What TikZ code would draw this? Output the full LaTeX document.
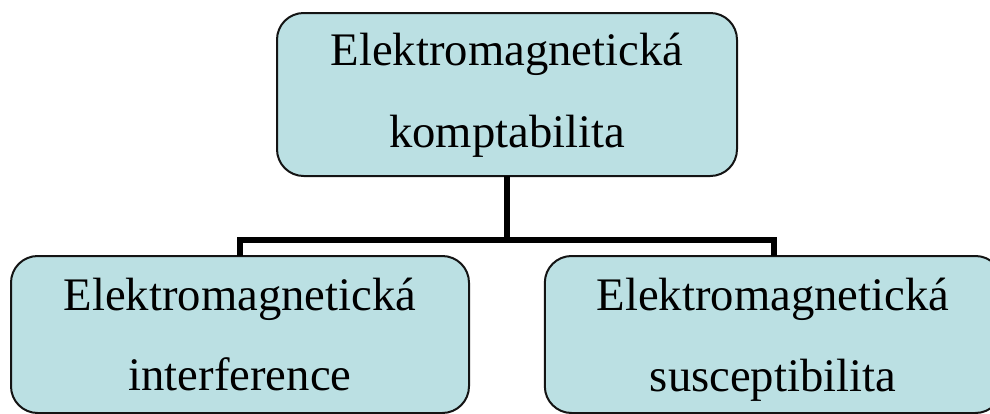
\documentclass[tikz,border=0pt]{standalone}
\usepackage{fontspec}
\setmainfont{Liberation Serif}
\definecolor{boxfill}{RGB}{187,224,227}
\definecolor{boxline}{RGB}{20,20,20}
\begin{document}
\begin{tikzpicture}[x=0.75pt,y=-0.75pt,
  box/.style={draw=boxline, line width=1.5pt, fill=boxfill, rounded corners=20pt,
    rectangle, inner sep=0pt, outer sep=0pt},
  conn/.style={draw=black, line width=4.5pt, line join=miter},
  lbl/.style={anchor=base, inner sep=0pt, font=\fontsize{35}{42}\selectfont}]
\useasboundingbox (0,0) rectangle (990,414);
\clip (0,0) rectangle (990,414);
% boxes
\node[box, minimum width=345pt, minimum height=122.25pt] (top) at (507,94.5) {};
\node[box, minimum width=343.5pt, minimum height=117.75pt] (left) at (240,334.5) {};
\node[box, minimum width=343pt, minimum height=117.75pt] (right) at (773.5,334.5) {};
% connectors
\coordinate (j) at (507,240);
\begin{scope}[on background layer/.try]
\end{scope}
\draw[conn] (top.south) -- (j);
\draw[conn] (left.north) |- (j) -| (right.north);
% redraw box borders on top of connector ends
% labels
\node[lbl] (t1) at (507,65) {Elektromagnetická};
\node[lbl] (t2) at (507,147) {komptabilita};
\node[lbl] (l1) at (240,310) {Elektromagnetická};
\node[lbl] (l2) at (240,390) {interference};
\node[lbl] (r1) at (773,310) {Elektromagnetická};
\node[lbl] (r2) at (773,391) {susceptibilita};
\end{tikzpicture}
\end{document}
